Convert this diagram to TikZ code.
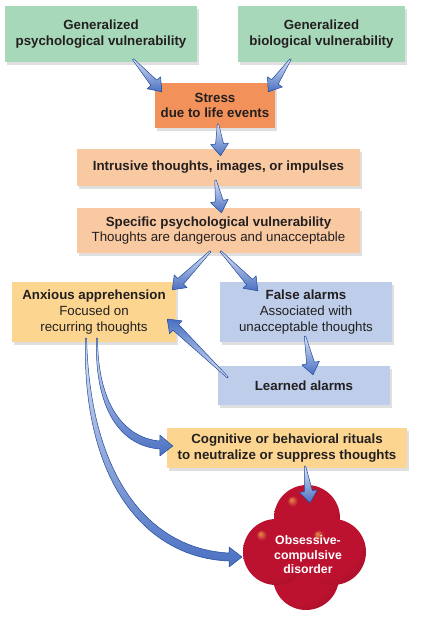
\documentclass[tikz,border=0pt]{standalone}
\usepackage{fontspec}
\setmainfont{Liberation Sans}
\usepackage{tikz}
\usetikzlibrary{calc, shadows}
\definecolor{vulngreen}{HTML}{A8D8BA}
\definecolor{stressorange}{HTML}{F2915A}
\definecolor{thoughtpeach}{HTML}{F9C9A2}
\definecolor{apprehyellow}{HTML}{FCD690}
\definecolor{alarmblue}{HTML}{BDCDEA}
\definecolor{inkdark}{HTML}{231F20}
\definecolor{arrowlight}{HTML}{DCE3F4}
\definecolor{arrowblue}{HTML}{4A70C2}
\definecolor{arrowline}{HTML}{1F4A9C}
\definecolor{ocdhigh}{HTML}{E8904A}
\definecolor{ocdred}{HTML}{BC1230}
\definecolor{ocddark}{HTML}{820B20}
\pgfdeclareradialshading{ocdball}{\pgfpoint{-12bp}{14bp}}{color(0bp)=(ocdhigh); color(4bp)=(ocdred); color(26bp)=(ocdred); color(50bp)=(ocddark)}
\tikzset{
  % flow chart boxes
  fc-box/.style={rectangle, inner sep=0pt, align=center, text=inkdark, font=\fontsize{13.3}{15.8}\selectfont, drop shadow={shadow xshift=2pt, shadow yshift=-3pt, opacity=0.25}},
  fc-bold/.style={fc-box, font=\fontsize{13.3}{15.8}\selectfont\bfseries},
  fc-arrow/.style={draw=arrowline, line width=0.5pt, line join=round, top color=arrowlight, bottom color=arrowblue},
  %OCD
  ocd-ball/.style={shading=ocdball},
  ocd-text/.style={align=center, text=white, font=\fontsize{12.3}{14.5}\selectfont\bfseries}
}
% tapered arrow from #2 to #3
\newcommand{\fcarrow}[3][]{%
  \coordinate (fa-a) at (#2);
  \coordinate (fa-b) at (#3);
  \path[fc-arrow,#1] ($(fa-a)!0.7pt!90:(fa-b)$) -- ($(fa-b)!12pt!(fa-a)!4pt!-90:(fa-a)$)
    -- ($(fa-b)!12pt!(fa-a)!9pt!-90:(fa-a)$) -- (fa-b) -- ($(fa-b)!12pt!(fa-a)!9pt!90:(fa-a)$)
    -- ($(fa-b)!12pt!(fa-a)!4pt!90:(fa-a)$) -- ($(fa-a)!0.7pt!-90:(fa-b)$) -- cycle;
}

\begin{document}
\begin{tikzpicture}[x=1pt, y=-1pt]
    \useasboundingbox (0,0) rectangle (420,631);
    % --- Vulnerabilities and stress ---
    \node[fc-bold, fill=vulngreen, minimum width=192pt, minimum height=56pt] (gpsy) at (101,34) {Generalized\\psychological vulnerability};
    \node[fc-bold, fill=vulngreen, minimum width=167pt, minimum height=56pt] (gbio) at (321.5,34) {Generalized\\biological vulnerability};
    \node[fc-bold, fill=stressorange, minimum width=120pt, minimum height=45pt] (stress) at (215,105.5) {Stress\\due to life events};
    % --- Thoughts ---
    \node[fc-bold, fill=thoughtpeach, minimum width=283pt, minimum height=37pt] (intr) at (218.5,167.5) {Intrusive thoughts, images, or impulses};
    \node[fc-box, fill=thoughtpeach, minimum width=283pt, minimum height=45pt] (spec) at (218.5,230.5) {\textbf{Specific psychological vulnerability}\\Thoughts are dangerous and unacceptable};
    \node[fc-box, fill=apprehyellow, minimum width=164pt, minimum height=60pt] (anx) at (94,312) {\textbf{Anxious apprehension}\\Focused on\\recurring thoughts};
    \node[fc-box, fill=alarmblue, minimum width=172pt, minimum height=60pt] (fals) at (306,312) {\textbf{False alarms}\\Associated with\\unacceptable thoughts};
    \node[fc-bold, fill=alarmblue, minimum width=172pt, minimum height=39pt] (learn) at (304,385.5) {Learned alarms};
    \node[fc-bold, fill=apprehyellow, minimum width=240pt, minimum height=40pt] (cog) at (287,448) {Cognitive or behavioral rituals\\to neutralize or suppress thoughts};

    % --- Disorder ---
    \coordinate (ocdc) at (308,555);
    \shade[ocd-ball] ($(ocdc)+(-1,-37)$) circle[radius=33pt];
    \shade[ocd-ball] ($(ocdc)+(-2,22)$) circle[radius=33pt];
    \shade[ocd-ball] ($(ocdc)+(-32,-3)$) circle[radius=33pt];
    \shade[ocd-ball] ($(ocdc)+(25,-3)$) circle[radius=33pt];
    \node[ocd-text] (ocd) at (ocdc) {Obsessive-\\compulsive\\disorder};

    % --- Arrows ---
    \fcarrow{[xshift=32pt,yshift=3pt]gpsy.south}{[xshift=7pt,yshift=-9pt]stress.north west}
    \fcarrow{[xshift=-31pt,yshift=3pt]gbio.south}{[xshift=-7pt,yshift=-9pt]stress.north east}
    \fcarrow{[xshift=3pt,yshift=4pt]stress.south}{[xshift=2pt,yshift=-7pt]intr.north}
    \fcarrow{[xshift=-3pt,yshift=6pt]intr.south}{[xshift=3pt,yshift=-5pt]spec.north}
    \fcarrow{[xshift=-8pt,yshift=2pt]spec.south}{[xshift=-4pt,yshift=-8pt]anx.north east}
    \fcarrow{[xshift=2pt,yshift=2pt]spec.south}{[xshift=38pt,yshift=-9pt]fals.north west}
    \fcarrow{[xshift=-1pt,yshift=6pt]fals.south}{[xshift=9pt,yshift=-9pt]learn.north}
    \fcarrow[shading angle=180]{[xshift=10pt,yshift=8pt]learn.west}{[xshift=-9pt,yshift=-7pt]anx.east}
    \fcarrow{[xshift=18pt,yshift=2pt]cog.south}{[xshift=2pt,yshift=52pt]ocd.center}
    % curved ones out of anxious apprehension
    \coordinate (c1s) at ([xshift=3pt,yshift=4pt]anx.south);
    \coordinate (c1t) at ([xshift=6pt,yshift=2pt]cog.west);
    \path[fc-arrow] ([xshift=0.6pt]c1s) .. controls +(0,67) and +(-35,-3) .. ($(c1t)+(-13,-5)$) -- ++(0,-6) -- (c1t)
      -- ($(c1t)+(-13,10)$) -- ++(0,-7) .. controls +(-39,-3) and +(-2,72) .. ([xshift=-0.6pt]c1s) -- cycle;
    \coordinate (c2s) at ([xshift=-8pt,yshift=4pt]anx.south);
    \coordinate (c2t) at ([xshift=-66pt,yshift=-2pt]ocd.center);
    \path[fc-arrow] ([xshift=0.6pt]c2s) .. controls +(3.4,140) and +(-79,-4) .. ($(c2t)+(-13,-4)$) -- ++(0,-6) -- (c2t)
      -- ($(c2t)+(-13,10)$) -- ++(0,-6) .. controls +(-83,-3) and +(-3.4,144) .. ([xshift=-0.6pt]c2s) -- cycle;
\end{tikzpicture}
\end{document}
